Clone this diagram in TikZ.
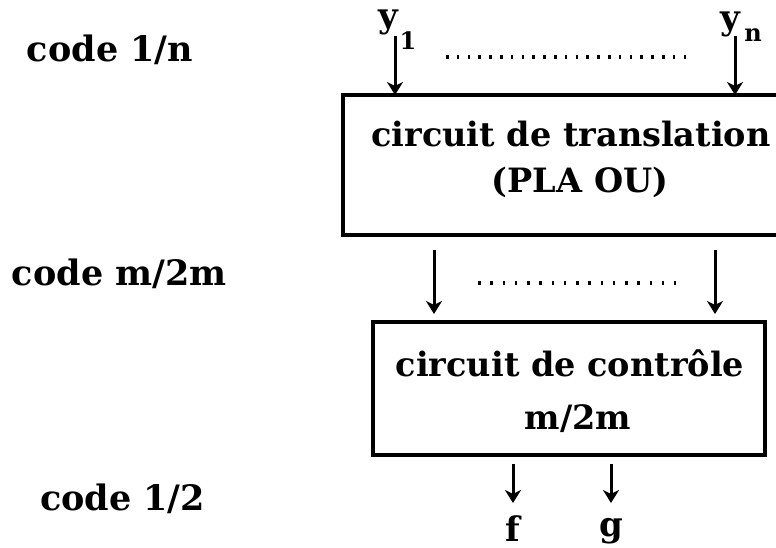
\documentclass[tikz,border=0pt]{standalone}
\usepackage{fontspec}
\setmainfont{DejaVu Serif}
\usetikzlibrary{arrows.meta}
\tikzset{
  every node/.style={inner sep=0pt, outer sep=0pt},
  lbl/.style={anchor=base west, font=\fontsize{35}{40}\selectfont\bfseries},
  boxtxt/.style={anchor=base, font=\fontsize{33.5}{40}\selectfont\bfseries},
  varname/.style={anchor=base, font=\fontsize{34}{40}\selectfont\bfseries},
  subs/.style={anchor=base, font=\fontsize{24}{28}\selectfont\bfseries},
  blockbox/.style={draw, line width=4.5pt, rectangle},
  arr/.style={line width=3pt, -{Stealth[length=13pt,width=16pt,inset=4pt]}},
  dotrow/.style={line width=4.5pt, dash pattern=on 2.5pt off 8.3pt}
}
\begin{document}
\begin{tikzpicture}[x=1pt,y=-1pt]
\useasboundingbox (0,0) rectangle (776,548);
\clip (0,0) rectangle (776,548);
% boxes
\node[blockbox, minimum width=447pt, minimum height=140pt] (box1) at (566.5,165) {};
\node[blockbox, minimum width=392pt, minimum height=133pt] (box2) at (569,388.5) {};
% box texts
\node[boxtxt] (t1a) at (571,147) {circuit de translation};
\node[boxtxt] (t1b) at (580,193) {(PLA OU)};
\node[boxtxt] (t2a) at (570,376) {circuit de contrôle};
\node[boxtxt] (t2b) at (578,429) {m/2m};
% left labels
\node[lbl] (c1) at (27,62) {code 1/n};
\node[lbl] (c2) at (12,285) {code m/2m};
\node[lbl] (c3) at (40,510) {code 1/2};
% inputs
\node[varname] (y1) at (388,28) {y};
\node[subs] (y1s) at (408,50) {1};
\node[varname] (yn) at (730,30) {y};
\node[subs] (yns) at (753,42) {n};
\coordinate (a1) at (395,36);
\coordinate (an) at (735,36);
\draw[arr] (a1) -- (a1 |- box1.north);
\draw[arr] (an) -- (an |- box1.north);
\coordinate (d1s) at (446,57);
\coordinate (d1e) at (686,57);
\draw[dotrow] (d1s) -- (d1e);
% middle arrows
\coordinate (m1) at (434,250);
\coordinate (m2) at (715,250);
\draw[arr, shorten >=8pt] (m1) -- (m1 |- box2.north);
\draw[arr, shorten >=8pt] (m2) -- (m2 |- box2.north);
\coordinate (d2s) at (478,283);
\coordinate (d2e) at (676,283);
\draw[dotrow, dash pattern=on 2.5pt off 9.75pt] (d2s) -- (d2e);
% outputs
\coordinate (fo) at (513,464);
\coordinate (go) at (611,464);
\coordinate (fe) at (513,503);
\coordinate (ge) at (611,503);
\node[varname] (f) at (513,541) {f};
\node[varname] (g) at (611,536) {g};
\draw[arr] (fo) -- (fe);
\draw[arr] (go) -- (ge);
\end{tikzpicture}
\end{document}
